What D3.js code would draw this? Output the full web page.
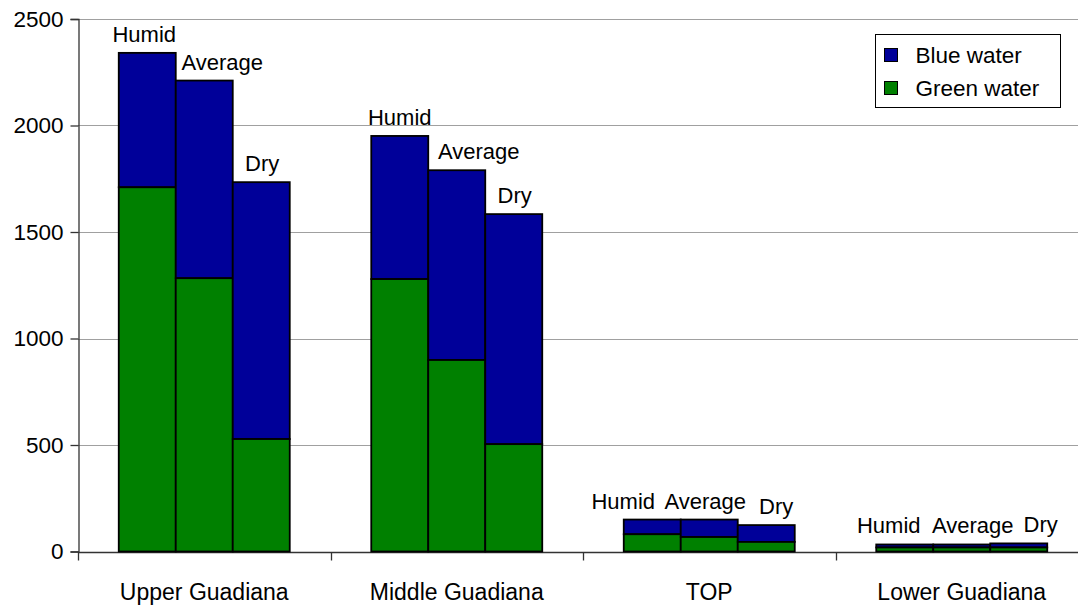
<!DOCTYPE html>
<html>
<head>
<meta charset="utf-8">
<script src="https://cdn.jsdelivr.net/npm/d3@7"></script>
<style>
	body { margin: 0; background: #fff; }
	text { font-family: "Liberation Sans", Arial, sans-serif; fill: #000; }
</style>
</head>
<body>
<div id="chart"></div>
<script>
var regions = ['Upper Guadiana', 'Middle Guadiana', 'TOP', 'Lower Guadiana'];
var scenarios = ['Humid', 'Average', 'Dry'];
// green water per region, in scenario order
var greenWater = [
	[1710, 1283, 528],
	[1279, 899, 504],
	[81, 68, 45],
	[19, 19, 19]
];
// blue water per region, in scenario order
var blueWater = [
	[631, 928, 1206],
	[672, 891, 1080],
	[69, 82, 79],
	[14, 14, 19]
];
var yTicks = [0, 500, 1000, 1500, 2000, 2500];
var seriesNames = ['Blue water', 'Green water'];

var colors = {blue: '#000099', green: '#008000'};
// nudges for the scenario labels (excel moved some of them to stop overlaps)
var labelNudge = [
	[-3, 18, 1],
	[0, 22, 1],
	[-29, -4, 10],
	[-16, 11, 22]
];

var width = 1078, height = 608;
var margin = {left: 78, top: 19, bottom: 57};

var svg = d3.select('#chart').append('svg')
	.attr('width', width).attr('height', height);

var x = d3.scaleBand().domain(regions).range([margin.left, 1088]).padding(0);
var xs = d3.scaleBand().domain(scenarios).range([0, x.bandwidth()])
	.paddingInner(0).paddingOuter(0.715);
var y = d3.scaleLinear().domain([0, 2500]).range([551.5, margin.top]);

// gridlines
svg.append('g').selectAll('line').data(yTicks.slice(1)).enter().append('line')
	.attr('x1', margin.left).attr('x2', width)
	.attr('y1', function(d) { return Math.round(y(d)) + 0.5; })
	.attr('y2', function(d) { return Math.round(y(d)) + 0.5; })
	.attr('stroke', '#a0a0a0').attr('stroke-width', 1);

// y axis
var yAxis = svg.append('g')
	.attr('transform', 'translate(' + (margin.left + 0.5) + ',0)')
	.call(d3.axisLeft(y).tickValues(yTicks).tickSize(8).tickPadding(7).tickFormat(d3.format('d')));
yAxis.select('.domain').attr('stroke', '#333').attr('stroke-width', 1.3);
yAxis.selectAll('.tick line').attr('stroke', '#333').attr('stroke-width', 1.3);
yAxis.selectAll('text').style('font-size', '22.5px').attr('font-family', null);

// x axis
var xAxis = svg.append('g').attr('transform', 'translate(0,' + (Math.round(y(0)) + 0.5) + ')');
xAxis.append('line').attr('x1', margin.left).attr('x2', width)
	.attr('stroke', '#333').attr('stroke-width', 1.5);
xAxis.selectAll('.xtick').data(regions).enter().append('line')
	.attr('x1', function(d) { return Math.round(x(d)) + 0.5; })
	.attr('x2', function(d) { return Math.round(x(d)) + 0.5; })
	.attr('y1', 0).attr('y2', 8).attr('stroke', '#333').attr('stroke-width', 1.3);
xAxis.selectAll('.xlabel').data(regions).enter().append('text')
	.attr('x', function(d) { return x(d) + x.bandwidth() / 2; })
	.attr('y', 47)
	.attr('text-anchor', 'middle')
	.style('font-size', '23px')
	.text(function(d) { return d; });

// bars
var rows = [];
regions.forEach(function(r, i) {
	scenarios.forEach(function(s, j) {
		rows.push({region: r, scen: s, i: i, j: j, green: greenWater[i][j], blue: blueWater[i][j]});
	});
});

var bars = svg.append('g').selectAll('g').data(rows).enter().append('g')
	.attr('transform', function(d) { return 'translate(' + (x(d.region) + xs(d.scen)) + ',0)'; });

bars.append('rect')
	.attr('x', 0).attr('width', xs.bandwidth())
	.attr('y', function(d) { return y(d.green + d.blue); })
	.attr('height', function(d) { return y(d.green) - y(d.green + d.blue); })
	.attr('fill', colors.blue).attr('stroke', '#000').attr('stroke-width', 1.8);

bars.append('rect')
	.attr('x', 0).attr('width', xs.bandwidth())
	.attr('y', function(d) { return y(d.green); })
	.attr('height', function(d) { return y(0) - y(d.green); })
	.attr('fill', colors.green).attr('stroke', '#000').attr('stroke-width', 1.8);

bars.append('text')
	.attr('x', function(d) { return xs.bandwidth() / 2 + labelNudge[d.i][d.j]; })
	.attr('y', function(d) { return y(d.green + d.blue) - 11; })
	.attr('text-anchor', 'middle')
	.style('font-size', '22px')
	.text(function(d) { return d.scen; });

// legend
var legend = svg.append('g').attr('transform', 'translate(875.5,34.5)');
legend.append('rect').attr('width', 185).attr('height', 73)
	.attr('fill', '#fff').attr('stroke', '#000').attr('stroke-width', 1);
var item = legend.selectAll('.item').data(seriesNames).enter().append('g')
	.attr('transform', function(d, i) { return 'translate(9,' + (14 + i * 33) + ')'; });
item.append('rect').attr('width', 13).attr('height', 13)
	.attr('fill', function(d, i) { return i == 0 ? colors.blue : colors.green; })
	.attr('stroke', '#000').attr('stroke-width', 1);
item.append('text').attr('x', 31).attr('y', 14)
	.style('font-size', '22.5px')
	.text(function(d) { return d; });
</script>
</body>
</html>
